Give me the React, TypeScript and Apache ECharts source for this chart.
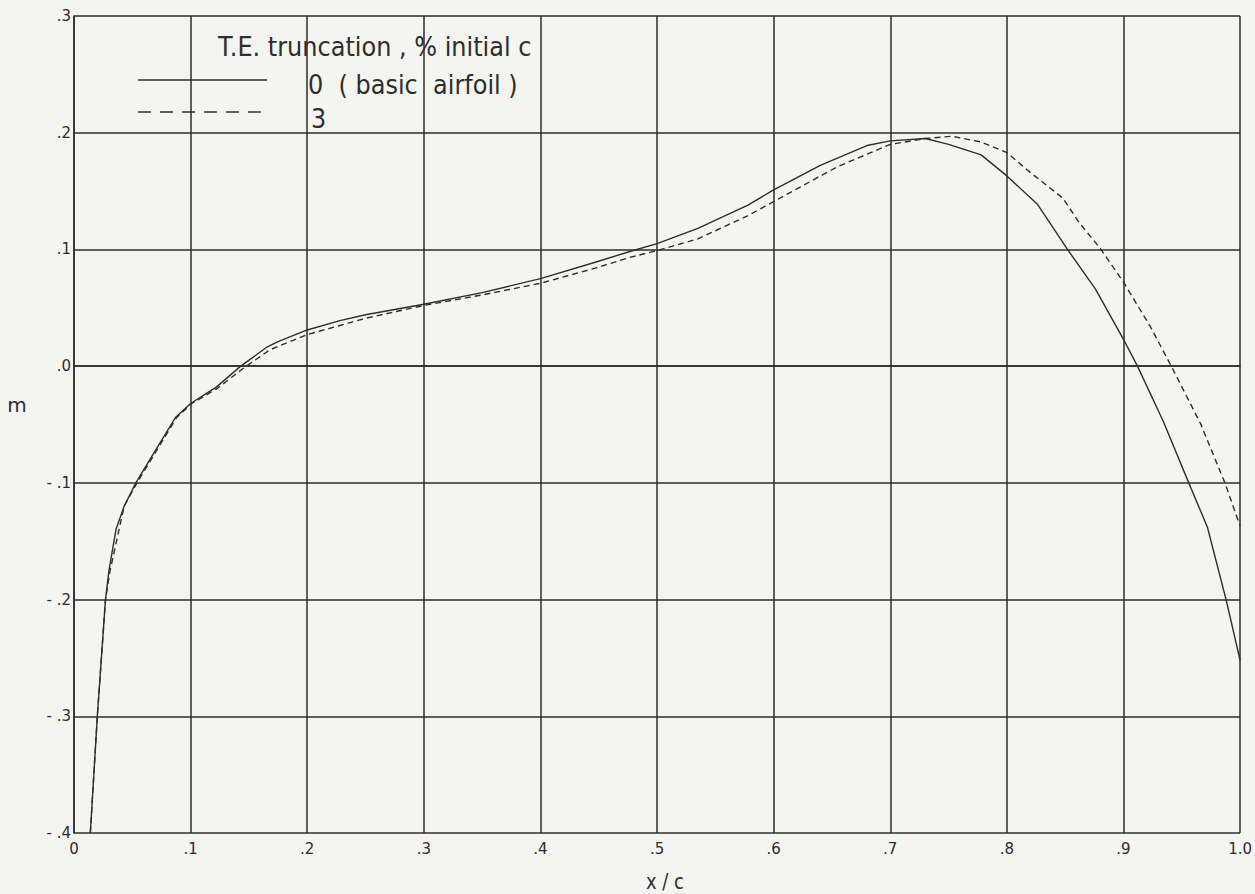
import React, { useEffect, useRef } from "react";
import * as echarts from "echarts";

// Mean-line slope m along the chord for the basic airfoil
const basicX = [0.014, 0.02, 0.027, 0.03, 0.036, 0.043, 0.053, 0.07, 0.087, 0.1, 0.122, 0.143, 0.165, 0.175, 0.2, 0.228, 0.25, 0.3, 0.35, 0.4, 0.447, 0.476, 0.5, 0.535, 0.578, 0.6, 0.64, 0.68, 0.7, 0.73, 0.75, 0.778, 0.8, 0.826, 0.852, 0.876, 0.9, 0.912, 0.934, 0.956, 0.972, 0.988, 1.0];
const basicM = [-0.4, -0.3, -0.2, -0.175, -0.14, -0.12, -0.1, -0.072, -0.044, -0.032, -0.018, 0.0, 0.016, 0.021, 0.031, 0.039, 0.044, 0.053, 0.063, 0.075, 0.089, 0.098, 0.105, 0.118, 0.138, 0.151, 0.172, 0.189, 0.193, 0.195, 0.19, 0.181, 0.163, 0.139, 0.1, 0.066, 0.023, 0.0, -0.047, -0.1, -0.138, -0.2, -0.252];

// Same airfoil with 3 % of the initial chord cut from the trailing edge
const truncX = [0.014, 0.02, 0.027, 0.031, 0.043, 0.054, 0.071, 0.088, 0.101, 0.123, 0.145, 0.168, 0.2, 0.25, 0.3, 0.35, 0.4, 0.447, 0.476, 0.5, 0.535, 0.578, 0.6, 0.655, 0.7, 0.73, 0.753, 0.778, 0.8, 0.82, 0.848, 0.862, 0.88, 0.9, 0.923, 0.941, 0.966, 0.987, 1.0];
const truncM = [-0.4, -0.3, -0.2, -0.175, -0.12, -0.1, -0.072, -0.044, -0.032, -0.019, -0.002, 0.014, 0.027, 0.041, 0.052, 0.061, 0.071, 0.084, 0.093, 0.099, 0.109, 0.129, 0.141, 0.171, 0.19, 0.195, 0.197, 0.192, 0.183, 0.166, 0.144, 0.123, 0.101, 0.072, 0.034, 0.0, -0.049, -0.1, -0.137];

const legendTitle = "T.E. truncation , % initial c";
const legendNames = ["0  ( basic  airfoil )", "3"];
const xAxisName = "x / c";
const yAxisName = "m";

const INK = "#2e2e2e";
const FONT = "DejaVu Sans";

const pairs = (xs: number[], ys: number[]) => xs.map((x, i) => [x, ys[i]]);

const fmtY = (v: number) => {
  const r = Math.round(v * 10);
  if (r === 0) return ".0";
  return (r < 0 ? "- " : "") + "." + Math.abs(r);
};
const fmtX = (v: number) => {
  const r = Math.round(v * 10);
  if (r === 0) return "0";
  if (r === 10) return "1.0";
  return "." + r;
};

export default function App() {
  const ref = useRef<HTMLDivElement>(null);

  useEffect(() => {
    if (!ref.current) return;
    const chart = echarts.init(ref.current, undefined, { renderer: "svg" });
    const lineStyleGrid = { color: INK, width: 1.5 };
    const legendFont = `24px "${FONT}"`;
    chart.setOption({
      animation: false,
      backgroundColor: "#f4f4f1",
      grid: { left: 74, right: 12, top: 16, bottom: 61 },
      xAxis: {
        type: "value",
        min: 0,
        max: 1,
        interval: 0.1,
        axisLine: { show: true, lineStyle: lineStyleGrid },
        axisTick: { show: false },
        splitLine: { show: true, lineStyle: lineStyleGrid },
        axisLabel: {
          formatter: fmtX,
          color: INK,
          fontFamily: FONT,
          fontSize: 15,
          margin: 8,
          showMaxLabel: true,
          showMinLabel: true,
        },
      },
      yAxis: {
        type: "value",
        min: -0.4,
        max: 0.3,
        interval: 0.1,
        axisLine: { show: true, lineStyle: lineStyleGrid },
        axisTick: { show: false },
        splitLine: { show: true, lineStyle: lineStyleGrid },
        axisLabel: {
          formatter: fmtY,
          color: INK,
          fontFamily: FONT,
          fontSize: 15,
          margin: 3,
          showMaxLabel: true,
          showMinLabel: true,
        },
      },
      series: [
        {
          name: legendNames[0],
          type: "line",
          data: pairs(basicX, basicM),
          showSymbol: false,
          symbol: "none",
          lineStyle: { color: INK, width: 1.4, type: "solid" },
        },
        {
          name: legendNames[1],
          type: "line",
          data: pairs(truncX, truncM),
          showSymbol: false,
          symbol: "none",
          lineStyle: { color: INK, width: 1.4, type: [6, 4] },
        },
      ],
      graphic: [
        {
          type: "text",
          x: 218,
          y: 47,
          scaleY: 1.1,
          style: {
            text: legendTitle,
            fill: INK,
            font: legendFont,
            textAlign: "left",
            textVerticalAlign: "middle",
          },
        },
        {
          type: "line",
          shape: { x1: 138, y1: 80, x2: 267, y2: 80 },
          style: { stroke: INK, lineWidth: 1.4 },
        },
        {
          type: "text",
          x: 308,
          y: 85,
          scaleY: 1.1,
          style: {
            text: legendNames[0],
            fill: INK,
            font: legendFont,
            textAlign: "left",
            textVerticalAlign: "middle",
          },
        },
        {
          type: "line",
          shape: { x1: 138, y1: 112, x2: 267, y2: 112 },
          style: { stroke: INK, lineWidth: 1.4, lineDash: [13, 9] },
        },
        {
          type: "text",
          x: 311,
          y: 119,
          scaleY: 1.1,
          style: {
            text: legendNames[1],
            fill: INK,
            font: legendFont,
            textAlign: "left",
            textVerticalAlign: "middle",
          },
        },
        {
          type: "text",
          x: 665,
          y: 882,
          scaleY: 1.2,
          style: {
            text: xAxisName,
            fill: INK,
            font: `18px "${FONT}"`,
            textAlign: "center",
            textVerticalAlign: "middle",
          },
        },
        {
          type: "text",
          x: 17,
          y: 405,
          style: {
            text: yAxisName,
            fill: INK,
            font: `20px "${FONT}"`,
            textAlign: "center",
            textVerticalAlign: "middle",
          },
        },
      ],
    });
    return () => chart.dispose();
  }, []);

  return (
    <div
      ref={ref}
      style={{ position: "fixed", left: 0, top: 0, width: 1255, height: 894 }}
    />
  );
}
